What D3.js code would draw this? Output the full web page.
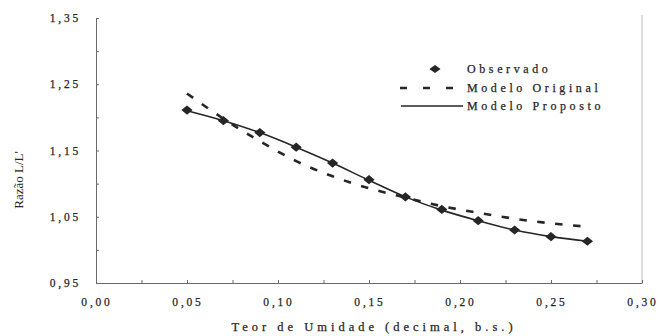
<!DOCTYPE html>
<html>
<head>
<meta charset="utf-8">
<script src="https://cdn.jsdelivr.net/npm/d3@7"></script>
<style>
  html, body { margin: 0; padding: 0; background: #fff; }
  svg { display: block; }
  svg text { font-family: "Liberation Serif", "Times New Roman", "DejaVu Serif", serif; }
</style>
</head>
<body>
<svg id="chart" width="659" height="336"></svg>
<script>
// moisture content (decimal, dry basis)
const teor = [0.05, 0.07, 0.09, 0.11, 0.13, 0.15, 0.17, 0.19, 0.21, 0.23, 0.25, 0.27];
const observado = [1.211, 1.195, 1.177, 1.155, 1.131, 1.106, 1.080, 1.061, 1.044, 1.030, 1.020, 1.013];
const modeloOriginal = [1.236, 1.198, 1.164, 1.134, 1.111, 1.093, 1.079, 1.066, 1.056, 1.047, 1.040, 1.035];
const modeloProposto = [1.210, 1.195, 1.177, 1.155, 1.131, 1.105, 1.080, 1.060, 1.044, 1.030, 1.020, 1.013];
const xTicks = [0, 0.05, 0.10, 0.15, 0.20, 0.25, 0.30];
const yTicks = [0.95, 1.05, 1.15, 1.25, 1.35];
const legendNames = ["Observado", "Modelo Original", "Modelo Proposto"];

const W = 659, H = 336;
const svg = d3.select("#chart");
const ink = "#262626";
const axisCol = "#6a6a6a";

const x = d3.scaleLinear().domain([0, 0.30]).range([96, 642]);
const y = d3.scaleLinear().domain([0.95, 1.35]).range([283, 18]);

const ptBR = d3.formatLocale({ decimal: ",", thousands: ".", grouping: [3], currency: ["R$", ""] });
const fmt = ptBR.format(".2f");

// right frame line (faint)
svg.append("line")
  .attr("x1", x(0.30)).attr("x2", x(0.30))
  .attr("y1", 15).attr("y2", y(0.95))
  .attr("stroke", "#b8b8b8").attr("stroke-width", 1);

// x axis: inward ticks every 0.025
const xAxisG = svg.append("g")
  .attr("transform", `translate(0,${y(0.95)})`)
  .call(d3.axisBottom(x).tickValues(d3.range(0, 0.3001, 0.025)).tickSize(-3).tickFormat("").tickSizeOuter(0));
xAxisG.select(".domain").attr("stroke", axisCol);
xAxisG.selectAll(".tick line").attr("stroke", axisCol);

// y axis: inward ticks every 0.05
const yAxisG = svg.append("g")
  .attr("transform", `translate(${x(0)},0)`)
  .call(d3.axisLeft(y).tickValues(d3.range(0.95, 1.3501, 0.05)).tickSize(-3).tickFormat("").tickSizeOuter(0));
yAxisG.select(".domain").attr("stroke", axisCol);
yAxisG.selectAll(".tick line").attr("stroke", axisCol);

// tick labels
svg.append("g").selectAll("text").data(xTicks).join("text")
  .attr("x", d => x(d) + 1).attr("y", 306)
  .attr("text-anchor", "middle")
  .attr("fill", ink).attr("stroke", ink).attr("stroke-width", 0.25)
  .style("font-size", "11.5px").style("letter-spacing", "2.8px")
  .text(d => fmt(d));

svg.append("g").selectAll("text").data(yTicks).join("text")
  .attr("x", 81).attr("y", d => y(d) + 4)
  .attr("text-anchor", "end")
  .attr("fill", ink).attr("stroke", ink).attr("stroke-width", 0.25)
  .style("font-size", "11.5px").style("letter-spacing", "2.8px")
  .text(d => fmt(d));

// axis titles
svg.append("text")
  .attr("x", 374).attr("y", 331)
  .attr("text-anchor", "middle")
  .attr("fill", ink).attr("stroke", ink).attr("stroke-width", 0.25)
  .style("font-size", "12.5px").style("letter-spacing", "4px")
  .text("Teor de Umidade (decimal, b.s.)");

svg.append("text")
  .attr("transform", `translate(23,180) rotate(-90)`)
  .attr("text-anchor", "middle")
  .attr("fill", ink)
  .style("font-size", "13px")
  .text("Razão L/L'");

// series
const pts = arr => teor.map((t, i) => [t, arr[i]]);
const line = d3.line().x(d => x(d[0])).y(d => y(d[1])).curve(d3.curveMonotoneX);

svg.append("path")
  .datum(pts(modeloOriginal))
  .attr("d", line)
  .attr("fill", "none").attr("stroke", ink)
  .attr("stroke-width", 2.6).attr("stroke-dasharray", "7.5,10.5");

svg.append("path")
  .datum(pts(modeloProposto))
  .attr("d", line)
  .attr("fill", "none").attr("stroke", ink)
  .attr("stroke-width", 1.6);

const diamond = d3.symbol().type(d3.symbolDiamond2).size(60);
svg.append("g").selectAll("path").data(pts(observado)).join("path")
  .attr("transform", d => `translate(${x(d[0])},${y(d[1])}) scale(1.15,0.95)`)
  .attr("d", diamond)
  .attr("fill", ink);

// legend
const leg = svg.append("g");
const legY = [69, 88, 106];
leg.append("path")
  .attr("transform", `translate(435,${legY[0]}) scale(1.15,0.85)`)
  .attr("d", diamond).attr("fill", ink);
leg.append("line")
  .attr("x1", 400).attr("x2", 454).attr("y1", legY[1]).attr("y2", legY[1])
  .attr("stroke", ink).attr("stroke-width", 2.6).attr("stroke-dasharray", "7,16");
leg.append("line")
  .attr("x1", 401).attr("x2", 463).attr("y1", legY[2]).attr("y2", legY[2])
  .attr("stroke", ink).attr("stroke-width", 1.5);
leg.selectAll("text.lbl").data(legendNames).join("text")
  .attr("class", "lbl")
  .attr("x", 467).attr("y", (d, i) => legY[i] + 4)
  .attr("fill", ink).attr("stroke", ink).attr("stroke-width", 0.25)
  .style("font-size", "12px").style("letter-spacing", "3.6px")
  .text(d => d);
</script>
</body>
</html>
